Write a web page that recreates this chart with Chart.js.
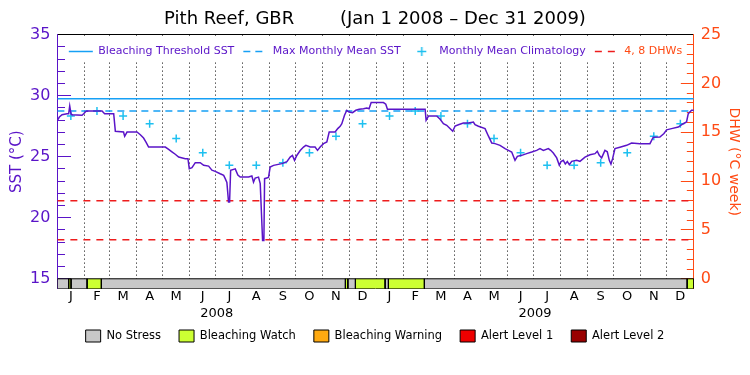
<!DOCTYPE html>
<html>
<head>
<meta charset="utf-8">
<script src="https://cdn.jsdelivr.net/npm/chart.js@4/dist/chart.umd.min.js"></script>
<style>
  html, body { margin: 0; padding: 0; background: #fff; }
  #wrap { position: relative; width: 750px; height: 375px; overflow: hidden; }
  #main { position: absolute; left: 0; top: 0; }
  #legBg { position: absolute; left: 71px; top: 37px; width: 609px; height: 25px; background: #fff; }
  #legTop { position: absolute; left: 57px; top: 37px; }
  #legBottom { position: absolute; left: 0; top: 312px; }
</style>
</head>
<body>
<div id="wrap">
  <canvas id="main" width="750" height="375"></canvas>
  <div id="legBg"></div>
  <canvas id="legTop" width="637" height="60"></canvas>
  <canvas id="legBottom" width="750" height="80"></canvas>
</div>
<script>
// ------------------------------------------------------------------ data
const titleText = 'Pith Reef, GBR        (Jan 1 2008 \u2013 Dec 31 2009)';
const years = [2008, 2009];
const monthLetters = ['J', 'F', 'M', 'A', 'M', 'J', 'J', 'A', 'S', 'O', 'N', 'D'];

// daily SST (days since Jan 1 2008)
const sstDay = [0, 2.3, 5.4, 11.1, 13, 14.2, 15.7, 16.8, 28.3, 30.2, 32.9, 34, 51.3, 54.3, 64.7, 66.6, 76, 77.3, 80, 91.4,
  95.3, 99, 101.8, 104.8, 124, 127.8, 131.6, 135.4, 139.3, 146.9, 150, 151.5, 154.6, 158.4, 164.1, 168, 173.7, 177.5, 181.3, 187,
  191, 192.8, 194.7, 196.6, 197.8, 199, 204.3, 207.3, 210, 219.6, 223.4, 225.3, 227.2, 231, 233, 234.9, 235.7, 237.2, 238, 242.5,
  244.4, 248.3, 257.8, 263.6, 267.4, 270, 272.4, 275, 278.9, 282.7, 285.4, 290.4, 296, 298.8, 301.8, 305.7, 309.5, 312.2, 319, 322,
  324.8, 326.7, 329.8, 332.4, 335, 339, 342.8, 346.6, 351.6, 355.4, 358, 360.4, 374.5, 377.2, 379.1, 422.4, 423.5, 426.2, 435.7, 439.6,
  443.4, 447.2, 451.8, 454.1, 456.8, 460.6, 466.3, 472.1, 477.8, 479.7, 483.6, 491.2, 495, 498.9, 502.7, 508.4, 514.2, 518, 521.8, 525.6,
  528.3, 533.3, 539, 544.8, 550.5, 554.3, 558.2, 563.9, 566.6, 569.6, 573.5, 576.5, 578.4, 581.1, 583.4, 585.7, 588, 590.7, 596.4, 600.2,
  606, 611.7, 617.5, 620.1, 622.4, 625.1, 628.9, 631.6, 633.9, 635.8, 637.7, 640.4, 646.1, 653.8, 659.5, 669.1, 680.6, 684.4, 692, 696.7,
  699.7, 705.4, 713.1, 718.8, 722.6, 724.6, 728.4, 731];
const sstValue = [27.98, 28.25, 28.44, 28.52, 28.52, 29.15, 28.5, 28.44, 28.39, 28.52, 28.72, 28.74, 28.74, 28.52, 28.52, 27.08, 27.02, 26.67, 27.02, 27.02,
  26.8, 26.53, 26.2, 25.79, 25.79, 25.6, 25.4, 25.2, 24.97, 24.84, 24.84, 24.02, 24.1, 24.51, 24.51, 24.3, 24.23, 23.9, 23.8, 23.6,
  23.47, 23.2, 22.9, 21.28, 21.28, 23.88, 24.0, 23.5, 23.33, 23.33, 23.42, 22.92, 23.25, 23.33, 22.79, 19.51, 18.14, 18.14, 23.2, 23.3,
  24.15, 24.29, 24.43, 24.6, 24.97, 25.11, 24.7, 25.1, 25.5, 25.79, 25.93, 25.79, 25.79, 25.52, 25.79, 26.07, 26.2, 27.02, 27.02, 27.3,
  27.49, 27.7, 28.4, 28.8, 28.66, 28.61, 28.8, 28.88, 28.93, 28.99, 28.93, 29.43, 29.43, 29.3, 28.88, 28.88, 27.98, 28.33, 28.33, 28.06,
  27.7, 27.57, 27.24, 27.08, 27.51, 27.62, 27.76, 27.76, 27.84, 27.62, 27.49, 27.3, 26.7, 26.12, 26.07, 25.93, 25.66, 25.52, 25.38, 24.7,
  25.03, 25.11, 25.25, 25.38, 25.52, 25.66, 25.52, 25.66, 25.52, 25.3, 24.9, 24.3, 24.6, 24.7, 24.4, 24.6, 24.34, 24.62, 24.7, 24.62,
  24.97, 25.16, 25.25, 25.45, 25.11, 24.9, 25.52, 25.4, 24.7, 24.4, 24.84, 25.66, 25.77, 25.93, 26.12, 26.07, 26.07, 26.6, 26.61, 26.9,
  27.2, 27.3, 27.43, 27.7, 27.84, 28.52, 28.8, 28.8];

// monthly mean climatology (Jan..Dec), same for both years
const climMonthMean = [28.33, 28.74, 28.33, 27.70, 26.48, 25.33, 24.29, 24.29, 24.51, 25.32, 26.68, 27.70];
const mmmSST = 28.74;
const bleachingThresholdSST = 29.74;
const dhwLevels = [4, 8];

// axes
const sstTickValues = [15, 16, 17, 18, 19, 20, 21, 22, 23, 24, 25, 26, 27, 28, 29, 30, 31, 32, 33, 34, 35];
const dhwTickValues = [0, 1, 2, 3, 4, 5, 6, 7, 8, 9, 10, 11, 12, 13, 14, 15, 16, 17, 18, 19, 20, 21, 22, 23, 24, 25];
const sstAxisMin = 14.18, sstAxisMax = 35;
const dhwAxisMin = -1.02, dhwAxisMax = 25;
const stressBarTop = 15;

// bleaching stress status bar
const stressLevels = ['No Stress', 'Bleaching Watch', 'Bleaching Warning', 'Alert Level 1', 'Alert Level 2'];
const stressStartDay = [0, 13, 15.7, 34.1, 50.5, 330.8, 333.6, 342.3, 376.4, 380.2, 421.5, 723.3];
const stressEndDay = [13, 15.7, 34.1, 50.5, 330.8, 333.6, 342.3, 376.4, 380.2, 421.5, 723.3, 731];
const stressLevelIndex = [0, 1, 0, 1, 0, 1, 0, 1, 0, 1, 0, 1];

const topLegendLabels = ['Bleaching Threshold SST', 'Max Monthly Mean SST', 'Monthly Mean Climatology', '4, 8 DHWs'];

// ------------------------------------------------------------------ styles
const PURPLE = '#5a14c8';
const ORANGE = '#ff4a14';
const CYAN = '#16a0f5';
const CROSS = '#1ec0f0';
const RED = '#ee1c1c';
const CLEAR = 'rgba(0,0,0,0)';
const stressColors = ['#c8c8c8', '#ccff33', '#ffaa11', '#ee0000', '#990000'];

Chart.defaults.font.family = "'DejaVu Sans', sans-serif";
Chart.defaults.color = '#000';

// ------------------------------------------------------------------ dates
const DAY_MS = 86400000;
const t0 = Date.UTC(2008, 0, 1);
const dayOf = (y, m, d) => (Date.UTC(y, m, d) - t0) / DAY_MS;
const xMax = dayOf(years[years.length - 1] + 1, 0, 1);
const monthStart = [], monthMid = [], monthLabel = [];
years.forEach(y => {
  for (let m = 0; m < 12; m++) {
    const s = dayOf(y, m, 1), e = dayOf(y, m + 1, 1);
    monthStart.push(s); monthMid.push((s + e) / 2); monthLabel.push(monthLetters[m]);
  }
});
const gridDays = monthStart.filter(d => d > 0);
const yearMid = years.map(y => (dayOf(y, 0, 1) + dayOf(y + 1, 0, 1)) / 2);

// ------------------------------------------------------------------ datasets
const sstPoints = sstDay.map((d, i) => ({x: d, y: sstValue[i]}));
const climPoints = [];
years.forEach((y, yi) => climMonthMean.forEach((v, m) => climPoints.push({x: monthMid[yi * 12 + m], y: v})));
const hline = v => [{x: 0, y: v}, {x: xMax, y: v}];

const datasets = [
  {label: 'SST', data: sstPoints, borderColor: PURPLE, borderWidth: 1.5, pointRadius: 0, fill: false, xAxisID: 'x', yAxisID: 'y'},
  {label: topLegendLabels[2], data: climPoints, showLine: false, pointStyle: 'cross', pointRadius: 4,
   pointBorderColor: CROSS, pointBorderWidth: 1.5, borderColor: CROSS, xAxisID: 'x', yAxisID: 'y'},
  {label: topLegendLabels[0], data: hline(bleachingThresholdSST), borderColor: CYAN, borderWidth: 1.5, pointRadius: 0, xAxisID: 'x', yAxisID: 'y'},
  {label: topLegendLabels[1], data: hline(mmmSST), borderColor: CYAN, borderWidth: 1.5, borderDash: [7, 5], pointRadius: 0, xAxisID: 'x', yAxisID: 'y'}
];
dhwLevels.forEach(v => datasets.push({label: topLegendLabels[3], data: hline(v), borderColor: RED, borderWidth: 1.5,
  borderDash: [7, 6], pointRadius: 0, xAxisID: 'x', yAxisID: 'y2'}));
stressStartDay.forEach((s, i) => {
  const e = stressEndDay[i];
  datasets.push({
    label: stressLevels[stressLevelIndex[i]],
    data: [{x: s, y: sstAxisMin}, {x: s, y: stressBarTop}, {x: e, y: stressBarTop}, {x: e, y: sstAxisMin}],
    borderColor: '#000', borderWidth: 1, backgroundColor: stressColors[stressLevelIndex[i]],
    fill: 'start', pointRadius: 0, xAxisID: 'x', yAxisID: 'y'
  });
});

const ticksFrom = arr => scale => { scale.ticks = arr.map(v => ({value: v})); };
const isMajor = c => c.tick && c.tick.value % 5 === 0;
// inward tick marks: grid lines on the chart area, dashed so only the part next to the axis shows
const leftTickDash = c => (isMajor(c) ? [13, 3000] : [7, 3000]);
const rightTickDash = c => {
  const w = (c.chart.chartArea ? c.chart.chartArea.width : 640);
  const len = isMajor(c) ? 13 : 7;
  return [0, Math.max(w - len, 0), len + 5, 3000];
};

new Chart(document.getElementById('main'), {
  type: 'line',
  data: {datasets},
  options: {
    responsive: false, animation: false, events: [],
    layout: {padding: {left: 4, right: 4, top: 0, bottom: 53}},
    elements: {line: {tension: 0}},
    plugins: {
      legend: {display: false},
      tooltip: {enabled: false},
      title: {display: true, text: titleText, color: '#000', font: {size: 18, weight: 'normal'}, padding: {top: 9, bottom: 4}}
    },
    scales: {
      x: {
        type: 'linear', position: 'bottom', min: 0, max: xMax,
        afterBuildTicks: ticksFrom(gridDays),
        ticks: {display: false},
        grid: {display: true, drawOnChartArea: true, drawTicks: false, color: '#000', lineWidth: 1, borderDash: [1, 3]},
        border: {display: true, color: '#000', width: 1, dash: [1, 3]}
      },
      xTop: {
        type: 'linear', position: 'top', min: 0, max: xMax,
        ticks: {display: false},
        grid: {display: true, drawOnChartArea: false, drawTicks: false, color: CLEAR},
        border: {display: true, color: '#000', width: 1}
      },
      xMonth: {
        type: 'linear', position: 'bottom', min: 0, max: xMax,
        afterBuildTicks: ticksFrom(monthMid),
        ticks: {autoSkip: false, maxRotation: 0, color: '#000', font: {size: 13}, padding: 0,
          callback: (v, i) => monthLabel[i]},
        grid: {display: false, drawTicks: false},
        border: {display: false}
      },
      xYear: {
        type: 'linear', position: 'bottom', min: 0, max: xMax,
        afterBuildTicks: ticksFrom(yearMid),
        ticks: {autoSkip: false, maxRotation: 0, color: '#000', font: {size: 13}, padding: 1,
          callback: (v, i) => String(years[i])},
        grid: {display: false, drawTicks: false},
        border: {display: false}
      },
      y: {
        type: 'linear', position: 'left', min: sstAxisMin, max: sstAxisMax,
        afterBuildTicks: ticksFrom(sstTickValues),
        ticks: {autoSkip: false, color: PURPLE, font: {size: 16}, padding: 0,
          callback: v => (v % 5 === 0 ? String(v) : '')},
        grid: {drawOnChartArea: true, drawTicks: true, tickLength: 7, tickColor: CLEAR, color: PURPLE, lineWidth: 1,
          borderDash: leftTickDash},
        border: {display: true, color: PURPLE, width: 1, dash: leftTickDash},
        title: {display: true, text: 'SST (\u00b0C)', color: PURPLE, font: {size: 15}, padding: {top: 4, bottom: 4}}
      },
      y2: {
        type: 'linear', position: 'right', min: dhwAxisMin, max: dhwAxisMax,
        afterBuildTicks: ticksFrom(dhwTickValues),
        ticks: {autoSkip: false, color: ORANGE, font: {size: 16}, padding: 0,
          callback: v => (v % 5 === 0 ? String(v) : '')},
        grid: {drawOnChartArea: true, drawTicks: true, tickLength: 7, tickColor: CLEAR, color: ORANGE, lineWidth: 1,
          borderDash: rightTickDash},
        border: {display: true, color: ORANGE, width: 1, dash: rightTickDash},
        title: {display: true, text: 'DHW (\u00b0C week)', color: ORANGE, font: {size: 14}, padding: {top: 4, bottom: 4}}
      }
    }
  }
});

// ------------------------------------------------------------------ top legend (inside the plot)
// small "+" swatch for the climatology entry, drawn with Chart.js's own point renderer
const crossIcon = document.createElement('canvas');
crossIcon.width = 11; crossIcon.height = 11;
(function () {
  const g = crossIcon.getContext('2d');
  g.strokeStyle = CROSS; g.fillStyle = CROSS; g.lineWidth = 1.5;
  if (Chart.helpers && typeof Chart.helpers.drawPoint === 'function') {
    Chart.helpers.drawPoint(g, {pointStyle: 'cross', radius: 4.5, borderWidth: 1.5, rotation: 0}, 5.5, 5.5);
  } else {
    g.beginPath(); g.moveTo(1, 5.5); g.lineTo(10, 5.5); g.moveTo(5.5, 1); g.lineTo(5.5, 10); g.stroke();
  }
})();

const topLegendItems = [
  {text: topLegendLabels[0], strokeStyle: CYAN, fillStyle: CYAN, lineWidth: 1.5, lineDash: [], pointStyle: 'line', rotation: 0, fontColor: PURPLE},
  {text: topLegendLabels[1], strokeStyle: CYAN, fillStyle: CYAN, lineWidth: 1.5, lineDash: [7, 5], pointStyle: 'line', rotation: 0, fontColor: PURPLE},
  {text: topLegendLabels[2], strokeStyle: CROSS, fillStyle: CROSS, lineWidth: 1.5, lineDash: [], pointStyle: crossIcon, rotation: 0, fontColor: PURPLE},
  {text: topLegendLabels[3], strokeStyle: RED, fillStyle: RED, lineWidth: 1.5, lineDash: [7, 6], pointStyle: 'line', rotation: 0, fontColor: ORANGE}
].map((it, i) => Object.assign({hidden: false, datasetIndex: i}, it));

new Chart(document.getElementById('legTop'), {
  type: 'line',
  data: {datasets: topLegendLabels.map(t => ({label: t, data: []}))},
  options: {
    responsive: false, animation: false, events: [],
    layout: {padding: 0},
    scales: {x: {display: false}, y: {display: false}},
    plugins: {
      tooltip: {enabled: false},
      legend: {position: 'top', align: 'center',
        labels: {usePointStyle: true, pointStyleWidth: 24, boxHeight: 6.5, padding: 9, font: {size: 11},
          generateLabels: () => topLegendItems}}
    }
  }
});

// ------------------------------------------------------------------ stress legend (below the chart)
new Chart(document.getElementById('legBottom'), {
  type: 'bar',
  data: {datasets: stressLevels.map((t, i) => ({label: t, data: [], backgroundColor: stressColors[i]}))},
  options: {
    responsive: false, animation: false, events: [],
    layout: {padding: 0},
    scales: {x: {display: false}, y: {display: false}},
    plugins: {
      tooltip: {enabled: false},
      legend: {position: 'top', align: 'center',
        labels: {boxWidth: 15, boxHeight: 12, padding: 18, font: {size: 11.5},
          generateLabels: () => stressLevels.map((t, i) => ({text: t, fillStyle: stressColors[i], strokeStyle: '#000',
            lineWidth: 1, hidden: false, datasetIndex: i, fontColor: '#000'}))}}
    }
  }
});
</script>
</body>
</html>
